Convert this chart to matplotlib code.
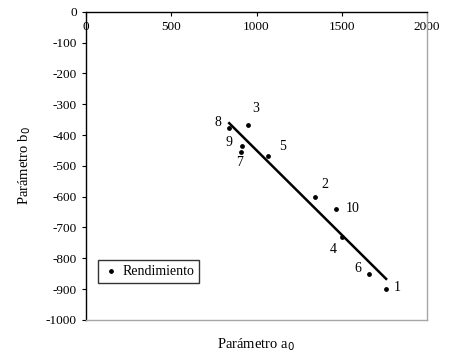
import numpy as np
import matplotlib.pyplot as plt

plt.rcParams['font.family'] = ['Liberation Serif', 'DejaVu Serif']
plt.rcParams['axes.unicode_minus'] = False

# datos
ids = ["1", "2", "3", "4", "5", "6", "7", "8", "9", "10"]
a0 = [1760, 1341, 952, 1500, 1069, 1662, 911, 840, 913, 1468]
b0 = [-899, -600, -367, -730, -468, -851, -454, -378, -434, -640]

# posicion de las etiquetas (puntos tipograficos)
offsets = {
    "1": (8, 1), "2": (7, 9), "3": (5, 12), "4": (-6, -9), "5": (10, 7),
    "6": (-8, 4), "7": (-1, -8), "8": (-8, 4), "9": (-9, 2), "10": (12, 0),
}

fig = plt.figure(figsize=(4.5, 3.59), dpi=100)
ax = fig.add_axes([0.191, 0.109, 0.758, 0.858])

ax.scatter(a0, b0, s=6, color="black", label="Rendimiento", zorder=3)

# linea de tendencia
coef = np.polyfit(a0, b0, 1)
xs = np.array([min(a0), max(a0)])
ax.plot(xs, np.polyval(coef, xs), color="black", lw=1.8)

for name, x, y in zip(ids, a0, b0):
    dx, dy = offsets[name]
    ax.annotate(name, (x, y), xytext=(dx, dy), textcoords="offset points",
                ha="center", va="center", fontsize=10)

ax.set_xlim(0, 2000)
ax.set_ylim(-1000, 0)
ax.set_xticks(np.arange(0, 2001, 500))
ax.set_yticks(np.arange(-1000, 1, 100))
ax.tick_params(axis="x", top=True, bottom=False, labeltop=True, labelbottom=False,
               direction="in", length=3, pad=-15, labelsize=9.5)
ax.tick_params(axis="y", direction="out", length=3, labelsize=9.5)

for side in ["top", "left"]:
    ax.spines[side].set_color("black")
    ax.spines[side].set_linewidth(1.0)
for side in ["right", "bottom"]:
    ax.spines[side].set_color("#a6a6a6")
    ax.spines[side].set_linewidth(1.0)

ax.set_xlabel("Parámetro a$_0$", fontsize=10.5, labelpad=12)
ax.set_ylabel("Parámetro b$_0$", fontsize=10.5, labelpad=9)

leg = ax.legend(loc="lower left", bbox_to_anchor=(0.035, 0.12), fontsize=10,
                frameon=True, fancybox=False, handletextpad=0.2,
                handlelength=1.2, borderpad=0.35, borderaxespad=0.0)
leg.get_frame().set_edgecolor("black")
leg.get_frame().set_linewidth(1.0)

plt.savefig("out.png", dpi=100)
